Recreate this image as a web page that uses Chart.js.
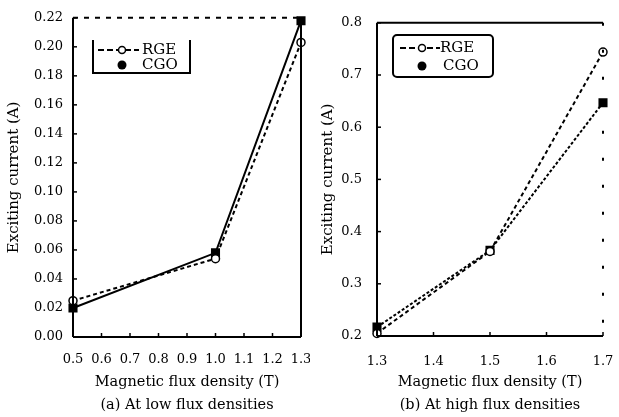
<!DOCTYPE html>
<html>
<head>
<meta charset="utf-8">
<script src="https://cdn.jsdelivr.net/npm/chart.js@4.4.1/dist/chart.umd.min.js"></script>
<style>
  body { margin: 0; background: #fff; }
  #wrap { width: 619px; height: 417px; display: flex; }
  .panel { position: relative; height: 417px; }
</style>
</head>
<body>
<div id="wrap">
  <div class="panel" style="width:310px"><canvas id="low"></canvas></div>
  <div class="panel" style="width:309px"><canvas id="high"></canvas></div>
</div>
<script>
// data
const seriesNames = ['RGE', 'CGO'];
const lowFlux = [0.5, 1.0, 1.3];
const lowRGE = [0.025, 0.054, 0.203];
const lowCGO = [0.020, 0.058, 0.218];
const highFlux = [1.3, 1.5, 1.7];
const highRGE = [0.205, 0.362, 0.744];
const highCGO = [0.217, 0.364, 0.647];
const xTitle = 'Magnetic flux density (T)';
const yTitle = 'Exciting current (A)';
const captions = ['(a) At low flux densities', '(b) At high flux densities'];

const FONT = 'DejaVu Serif';

// frame, inward ticks and the little legend box
const framePlugin = {
  id: 'frameDeco',
  afterDraw(chart, args, opts) {
    const ctx = chart.ctx;
    const a = chart.chartArea;
    ctx.save();
    ctx.strokeStyle = '#000';
    ctx.lineWidth = 2;

    const sides = {
      left: [a.left, a.top, a.left, a.bottom],
      right: [a.right, a.top, a.right, a.bottom],
      top: [a.left, a.top, a.right, a.top],
      bottom: [a.left, a.bottom, a.right, a.bottom]
    };
    Object.keys(sides).forEach(k => {
      const s = sides[k];
      ctx.setLineDash(opts.dash[k] || []);
      ctx.beginPath();
      ctx.moveTo(s[0], s[1]);
      ctx.lineTo(s[2], s[3]);
      ctx.stroke();
    });
    ctx.setLineDash([]);

    // inward tick marks
    ctx.lineWidth = 1.5;
    const xs = chart.scales.x, ys = chart.scales.y;
    ys.ticks.forEach(t => {
      const y = ys.getPixelForValue(t.value);
      ctx.beginPath();
      ctx.moveTo(a.left, y);
      ctx.lineTo(a.left + 4, y);
      ctx.stroke();
    });
    xs.ticks.forEach(t => {
      const x = xs.getPixelForValue(t.value);
      ctx.beginPath();
      ctx.moveTo(x, a.bottom);
      ctx.lineTo(x, a.bottom - 4);
      ctx.stroke();
    });

    // legend
    const L = opts.legend;
    ctx.lineWidth = 2;
    ctx.beginPath();
    if (L.rounded) {
      ctx.roundRect(L.x, L.y, L.w, L.h, 4);
    } else {
      ctx.moveTo(L.x, L.y);
      ctx.lineTo(L.x, L.y + L.h);
      ctx.lineTo(L.x + L.w, L.y + L.h);
      ctx.lineTo(L.x + L.w, L.y);
    }
    ctx.stroke();

    ctx.lineWidth = 1.8;
    ctx.setLineDash([6, 3]);
    ctx.beginPath();
    ctx.moveTo(L.lineX1, L.row1);
    ctx.lineTo(L.lineX2, L.row1);
    ctx.stroke();
    ctx.setLineDash([]);
    ctx.lineWidth = 1.5;
    ctx.fillStyle = '#fff';
    ctx.beginPath();
    ctx.arc(L.markX, L.row1, 3.5, 0, Math.PI * 2);
    ctx.fill();
    ctx.stroke();
    ctx.fillStyle = '#000';
    ctx.beginPath();
    ctx.arc(L.markX, L.row2, 4.5, 0, Math.PI * 2);
    ctx.fill();

    ctx.font = '15px "' + FONT + '"';
    ctx.textBaseline = 'middle';
    ctx.fillText(seriesNames[0], L.textX1, L.row1);
    ctx.fillText(seriesNames[1], L.textX2, L.row2);
    ctx.restore();
  }
};

function makeChart(id, flux, rge, cgo, cfg) {
  const toPts = vals => flux.map((x, i) => ({ x: x, y: vals[i] }));
  return new Chart(document.getElementById(id), {
    type: 'line',
    data: {
      datasets: [
        {
          label: seriesNames[0],
          data: toPts(rge),
          borderColor: '#000',
          borderWidth: 2,
          borderDash: [4, 3],
          pointStyle: 'circle',
          pointRadius: 4,
          pointBackgroundColor: '#fff',
          pointBorderColor: '#000',
          pointBorderWidth: 1.5,
          clip: false,
          tension: 0
        },
        {
          label: seriesNames[1],
          data: toPts(cgo),
          borderColor: '#000',
          borderWidth: 2,
          borderDash: cfg.cgoDash,
          pointStyle: 'rect',
          pointRadius: 5,
          pointBackgroundColor: '#000',
          pointBorderColor: '#000',
          clip: false,
          tension: 0
        }
      ]
    },
    options: {
      responsive: true,
      maintainAspectRatio: false,
      animation: false,
      layout: { padding: { top: cfg.top, right: cfg.right, left: 0, bottom: 0 } },
      plugins: {
        legend: { display: false },
        tooltip: { enabled: false },
        frameDeco: { dash: cfg.dash, legend: cfg.legend }
      },
      scales: {
        x: {
          type: 'linear',
          min: cfg.xMin,
          max: cfg.xMax,
          grid: { display: false, drawTicks: false },
          border: { display: false },
          ticks: {
            stepSize: 0.1,
            padding: cfg.xPad,
            color: '#000',
            font: { family: FONT, size: 13 },
            callback: v => v.toFixed(1)
          },
          title: {
            display: true,
            text: [xTitle, cfg.caption],
            color: '#000',
            font: { family: FONT, size: 14.5, lineHeight: '23px' },
            padding: { top: 0, bottom: 0 }
          },
          afterFit: s => {
            s.height = cfg.xHeight;
            s.paddingLeft = 0;
            s.paddingRight = 0;
          }
        },
        y: {
          min: cfg.yMin,
          max: cfg.yMax,
          grid: { display: false, drawTicks: false },
          border: { display: false },
          ticks: {
            stepSize: cfg.yStep,
            padding: cfg.yPad,
            color: '#000',
            font: { family: FONT, size: 13 },
            callback: v => v.toFixed(cfg.yDigits)
          },
          title: {
            display: true,
            text: yTitle,
            color: '#000',
            font: { family: FONT, size: 15 },
            padding: { top: cfg.yTitlePad, bottom: 0 }
          },
          afterFit: s => { s.width = cfg.yWidth; }
        }
      }
    },
    plugins: [framePlugin]
  });
}

makeChart('low', lowFlux, lowRGE, lowCGO, {
  xMin: 0.5, xMax: 1.3, yMin: 0, yMax: 0.22, yStep: 0.02, yDigits: 2,
  top: 16, right: 9, xHeight: 80, yWidth: 73, yPad: 10, yTitlePad: 5,
  xPad: 15,
  cgoDash: [],
  caption: captions[0],
  dash: { top: [5, 6] },
  legend: { x: 93, y: 40, w: 97, h: 33, rounded: false,
            lineX1: 98, lineX2: 139, markX: 122, row1: 50, row2: 65,
            textX1: 142, textX2: 142 }
});

makeChart('high', highFlux, highRGE, highCGO, {
  xMin: 1.3, xMax: 1.7, yMin: 0.2, yMax: 0.8, yStep: 0.1, yDigits: 1,
  top: 15, right: 16, xHeight: 81, yWidth: 67, yPad: 15, yTitlePad: 9,
  xPad: 18,
  cgoDash: [3, 2],
  caption: captions[1],
  dash: { right: [3, 24] },
  legend: { x: 83, y: 35, w: 100, h: 42, rounded: true,
            lineX1: 90, lineX2: 130, markX: 112, row1: 48, row2: 66,
            textX1: 130, textX2: 133 }
});
</script>
</body>
</html>
